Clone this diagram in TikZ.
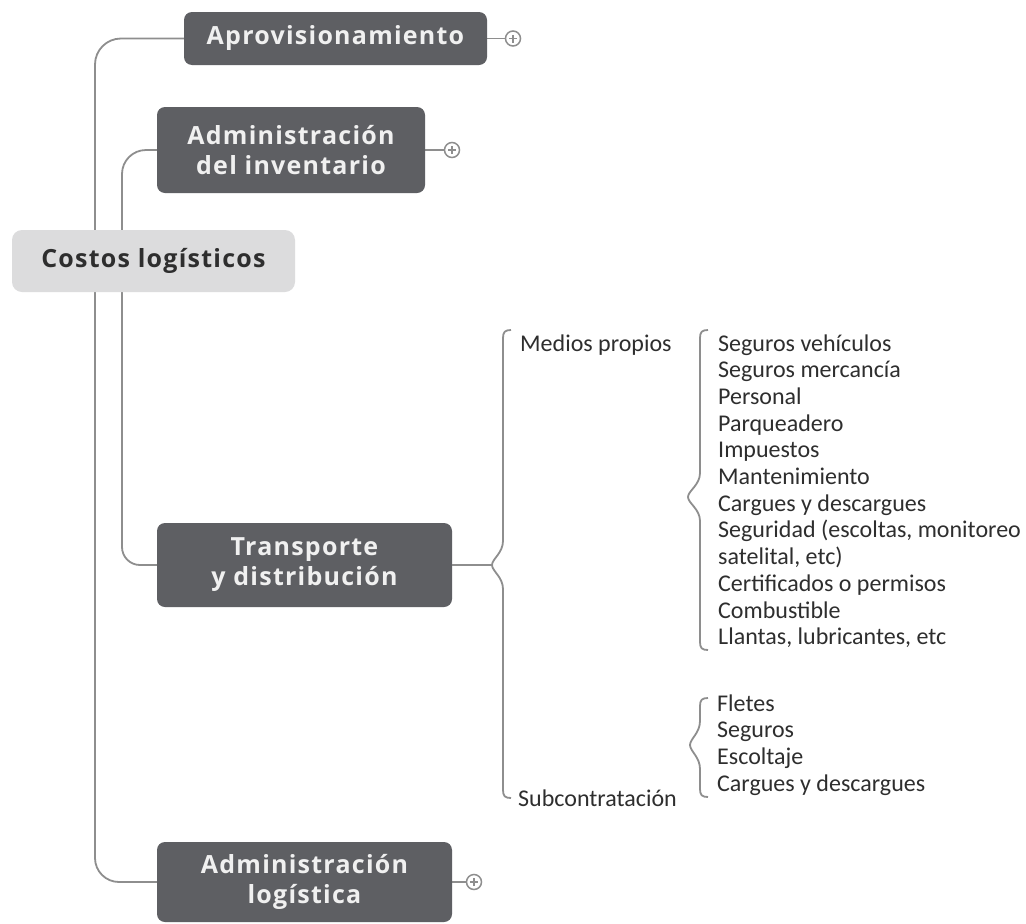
\documentclass[tikz,border=0pt]{standalone}
\usepackage{fontspec}
\newfontfamily\boxfont{Open Sans}[LetterSpace=5]
\newfontfamily\itemfont{Carlito}
\usetikzlibrary{backgrounds}
\definecolor{boxgray}{HTML}{5E5F63}
\definecolor{rootgray}{HTML}{DCDCDD}
\definecolor{linegray}{HTML}{8E8E8E}
\definecolor{inkgray}{HTML}{2E2E2E}

% left-facing brace with a pointed notch: x, top, middle, bottom, notch depth
\newcommand{\costbrace}[5]{%
  \draw[conn] ({#1+8},#2) .. controls ({#1+2},#2) and (#1,{#2+2}) .. (#1,{#2+8})
    -- (#1,{#3-24}) .. controls (#1,{#3-12}) and ({#1-#5},{#3-6}) .. ({#1-#5},#3)
    .. controls ({#1-#5},{#3+6}) and (#1,{#3+12}) .. (#1,{#3+24})
    -- (#1,{#4-8}) .. controls (#1,{#4-2}) and ({#1+2},#4) .. ({#1+8},#4);}

\begin{document}
\begin{tikzpicture}[x=1pt,y=-1pt,
  conn/.style={draw=linegray, line width=1.8pt},
  topic/.style={fill=boxgray, rounded corners=8pt, text=white!94!black,
    font=\boxfont\bfseries\fontsize{25}{30}\selectfont, align=center, inner sep=0pt},
  root/.style={fill=rootgray, rounded corners=10pt, text=inkgray,
    font=\boxfont\bfseries\fontsize{25}{30}\selectfont, inner sep=0pt},
  plus/.style={circle, draw=linegray, line width=1.5pt, fill=white, minimum size=15pt, inner sep=0pt},
  item/.style={anchor=base west, inner sep=0pt, text=inkgray,
    font=\itemfont\fontsize{24}{26.7}\selectfont}]
\useasboundingbox (0,0) rectangle (1026,924);

% main topics
\node[root, minimum width=283pt, minimum height=62pt] (costos) at (153.5,261) {Costos logísticos};
\node[topic, minimum width=303pt, minimum height=53pt] (aprov) at (335.5,38.5) {Aprovisionamiento};
\node[topic, minimum width=268pt, minimum height=86pt] (inv) at (291,150) {Administración\\del inventario};
\node[topic, minimum width=295pt, minimum height=84pt] (trans) at (304.5,565) {Transporte\\y distribución};
\node[topic, minimum width=295pt, minimum height=80pt] (adlog) at (304.5,882) {Administración\\logística};

% collapsed markers
\node[plus] (pa) at (513,38.5) {};
\node[plus] (pi) at (452,150) {};
\node[plus] (pl) at (474,882) {};
\foreach \p in {pa,pi,pl}{
  \draw[linegray, line width=1.4pt] ([xshift=-4pt]\p.center) -- ([xshift=4pt]\p.center);
  \draw[linegray, line width=1.4pt] ([yshift=-4pt]\p.center) -- ([yshift=4pt]\p.center);
}

% second level under transport
\node[item] (medios) at (520,351) {Medios propios};
\node[item] (subc) at (518,806) {Subcontratación};

% costs of own means
\foreach \t [count=\i] in {Seguros vehículos, Seguros mercancía, Personal, Parqueadero,
  Impuestos, Mantenimiento, Cargues y descargues, {Seguridad (escoltas, monitoreo},
  {satelital, etc)}, Certificados o permisos, Combustible, {Llantas, lubricantes, etc}}
  \node[item] (m\i) at (718,{351+(\i-1)*26.7}) {\t};

% costs of outsourcing
\foreach \t [count=\i] in {Fletes, Seguros, Escoltaje, Cargues y descargues}
  \node[item] (s\i) at (717,{711+(\i-1)*26.7}) {\t};

\begin{scope}[on background layer]
  \fill[white] (0,0) rectangle (1026,924);
  \coordinate (trunkA) at (95,261);
  \coordinate (trunkB) at (122,261);
  \draw[conn, rounded corners=26pt] (trunkA) |- (aprov.west);
  \draw[conn, rounded corners=24pt] (trunkA) |- (adlog.west);
  \draw[conn, rounded corners=24pt] (trunkB) |- (inv.west);
  \draw[conn, rounded corners=18pt] (trunkB) |- (trans.west);
  \draw[conn] (aprov.east) -- (pa.west);
  \draw[conn] (inv.east) -- (pi.west);
  \draw[conn] (adlog.east) -- (pl.west);
\end{scope}

% transport splits into own means and outsourcing
\coordinate (tnotch) at (492,565);
\draw[conn] (trans.east) -- (tnotch);
\costbrace{503}{330}{565}{798}{11}
\costbrace{700}{330}{497}{650}{12}
\costbrace{700}{698}{745}{797}{10}
\end{tikzpicture}
\end{document}
